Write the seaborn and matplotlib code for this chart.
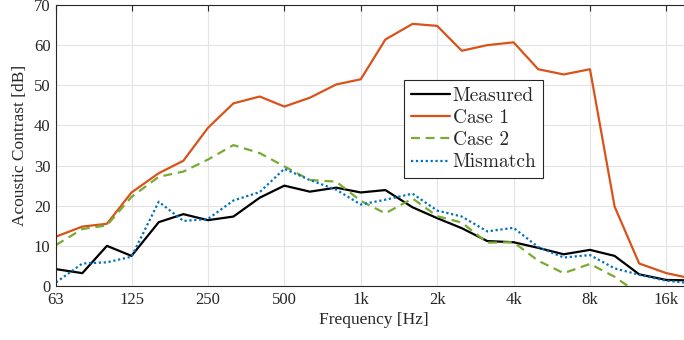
import numpy as np
import pandas as pd
import matplotlib
matplotlib.use("Agg")
import matplotlib.pyplot as plt
import seaborn as sns

freqs = [63, 80, 100, 125, 160, 200, 250, 315, 400, 500, 630, 800, 1000, 1250,
         1600, 2000, 2500, 3150, 4000, 5000, 6300, 8000, 10000, 12500, 16000, 20000]

measured = [4.2, 3.2, 10.0, 7.5, 15.9, 17.9, 16.4, 17.3, 22.0, 25.0, 23.5, 24.5, 23.3,
            23.9, 19.6, 16.9, 14.4, 11.2, 10.9, 9.5, 7.9, 9.0, 7.5, 2.9, 1.5, 1.4]
case1 = [12.3, 14.8, 15.5, 23.3, 28.1, 31.2, 39.4, 45.5, 47.2, 44.7, 46.9, 50.2, 51.5,
         61.4, 65.3, 64.8, 58.6, 60.0, 60.7, 54.0, 52.7, 54.0, 19.8, 5.6, 3.2, 1.9]
case2 = [10.2, 14.2, 15.1, 22.2, 27.2, 28.5, 31.5, 35.1, 33.1, 29.8, 26.4, 26.0, 21.2,
         18.1, 21.8, 17.4, 15.8, 10.8, 10.9, 6.3, 3.2, 5.5, 2.3, -2.0, -3.0, -3.0]
mismatch = [0.9, 5.6, 5.9, 7.3, 21.0, 16.2, 16.7, 21.3, 23.4, 29.2, 26.4, 24.0, 20.3,
            21.5, 23.0, 18.8, 17.3, 13.6, 14.5, 9.7, 7.1, 7.7, 4.4, 2.8, 1.3, 0.7]

series_names = ["Measured", "Case 1", "Case 2", "Mismatch"]
tick_freqs = [63, 125, 250, 500, 1000, 2000, 4000, 8000, 16000]
tick_labels = ["63", "125", "250", "500", "1k", "2k", "4k", "8k", "16k"]
yticks = [0, 10, 20, 30, 40, 50, 60, 70]

df = pd.concat([
    pd.DataFrame({"Frequency": freqs, "Contrast": vals, "Series": name})
    for name, vals in zip(series_names, [measured, case1, case2, mismatch])
], ignore_index=True)

sns.set_style("white")
plt.rcParams["font.family"] = ["Liberation Serif", "DejaVu Serif"]
plt.rcParams["axes.unicode_minus"] = False

fig = plt.figure(figsize=(6.84, 3.40), dpi=100)
ax = fig.add_axes([56 / 684, 54 / 340, 635 / 684, 281 / 340])

palette = {"Measured": "#000000", "Case 1": "#D95319", "Case 2": "#77AC30", "Mismatch": "#0072BD"}
dashes = {"Measured": "", "Case 1": "", "Case 2": (4, 2.6), "Mismatch": (1, 1.2)}

sns.lineplot(data=df, x="Frequency", y="Contrast", hue="Series", style="Series",
             hue_order=series_names, style_order=series_names,
             palette=palette, dashes=dashes, linewidth=1.6, ax=ax, legend=True,
             estimator=None, sort=False)

ax.set_xscale("log")
ax.set_xlim(63, 20000)
ax.set_ylim(0, 70)
ax.set_xticks(tick_freqs)
ax.set_xticklabels(tick_labels)
ax.xaxis.set_minor_locator(matplotlib.ticker.NullLocator())
ax.set_yticks(yticks)
ax.tick_params(axis="both", which="major", direction="in", length=4, width=0.8,
               top=True, right=True, labelsize=12, colors="#262626", pad=4)
for lab in ax.get_xticklabels() + ax.get_yticklabels():
    lab.set_color("#262626")
ax.grid(True, color="#e3e3e3", linewidth=0.8)
ax.set_axisbelow(True)
for sp in ax.spines.values():
    sp.set_color("#262626")
    sp.set_linewidth(0.8)

ax.set_xlabel("Frequency [Hz]", fontsize=12.5, color="#262626", labelpad=3)
ax.set_ylabel("Acoustic Contrast [dB]", fontsize=12.5, color="#262626", labelpad=4)

handles, labels = ax.get_legend_handles_labels()
leg = ax.legend(handles, labels, loc="upper left",
                bbox_to_anchor=(404 / 684, 1 - 80 / 340), bbox_transform=fig.transFigure,
                prop={"family": "cmr10", "size": 14}, frameon=True, fancybox=False,
                edgecolor="#262626", framealpha=1, handlelength=2.0, handletextpad=0.15,
                labelspacing=0.22, borderpad=0.35, borderaxespad=0)
leg.get_frame().set_linewidth(0.8)

fig.savefig("out.png", dpi=100)
